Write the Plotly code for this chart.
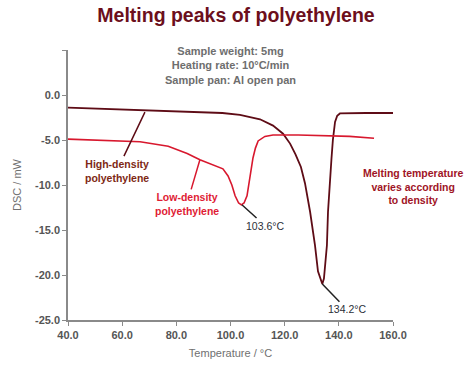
import plotly.graph_objects as go

# High-density polyethylene DSC curve
hd_temp = [40, 60, 80, 97, 103.5, 110.9, 115.7, 119.4, 122, 124, 126, 127.5, 129.4, 131.2,
           132.3, 133.9, 134.5, 135.6, 136.0, 136.7, 137.3, 137.8, 138.6, 139.4, 140.4, 150, 160]
hd_dsc = [-1.4, -1.6, -1.8, -2.0, -2.2, -2.7, -3.4, -4.3, -5.4, -6.6, -8.0, -9.8, -13.0, -16.7,
          -19.6, -21.0, -20.4, -16.7, -13.0, -9.3, -7.0, -5.0, -3.0, -2.3, -2.05, -2.0, -2.0]

# Low-density polyethylene DSC curve
ld_temp = [40, 50, 60, 66.6, 77, 84, 88.7, 93, 97.2, 99.1, 100.5, 101.7, 103.0, 104.0, 105.0,
           106.1, 107.2, 108.3, 109.2, 110.2, 112.7, 115.7, 125, 135, 144, 153]
ld_dsc = [-4.9, -5.0, -5.1, -5.2, -5.7, -6.5, -7.2, -7.7, -8.2, -9.0, -10.0, -11.2, -12.0, -12.2, -12.0,
          -11.2, -9.0, -7.0, -5.9, -5.1, -4.6, -4.45, -4.45, -4.5, -4.6, -4.8]

x_ticks = [40, 60, 80, 100, 120, 140, 160]
y_ticks = [-25, -20, -15, -10, -5, 0, 5]
y_tick_text = ["-25.0", "-20.0", "-15.0", "-10.0", "-5.0", "0.0", ""]

FONT = "Liberation Sans, Arial, sans-serif"
HD_COLOR = "#5e0c16"
LD_COLOR = "#d8182e"

fig = go.Figure()
fig.add_trace(go.Scatter(x=hd_temp, y=hd_dsc, mode="lines",
                         line=dict(color=HD_COLOR, width=1.8), showlegend=False))
fig.add_trace(go.Scatter(x=ld_temp, y=ld_dsc, mode="lines",
                         line=dict(color=LD_COLOR, width=1.6), showlegend=False))

annos = [
    dict(x=68.4, y=-1.9, ax=58.1, ay=-8.4, text="High-density<br>polyethylene",
         font=dict(color="#7e2814", size=10.5, weight="bold"), arrowcolor=HD_COLOR),
    dict(x=88.7, y=-7.2, ax=83.9, ay=-12.1, text="Low-density<br>polyethylene",
         font=dict(color="#e01c34", size=10.5, weight="bold"), arrowcolor=LD_COLOR),
    dict(x=104.2, y=-12.2, ax=112.7, ay=-14.5, text="103.6°C",
         font=dict(color="#2b3038", size=10.5), arrowcolor="#222222"),
    dict(x=133.9, y=-21.0, ax=142.9, ay=-23.8, text="134.2°C",
         font=dict(color="#2b3038", size=10.5), arrowcolor="#222222"),
]
for a in annos:
    fig.add_annotation(xref="x", yref="y", axref="x", ayref="y", showarrow=True,
                       arrowhead=0, arrowwidth=1.5, standoff=0, startstandoff=0,
                       font_family=FONT, **a)

fig.add_annotation(xref="paper", yref="paper", x=1.062, y=0.496, showarrow=False,
                   xanchor="center", yanchor="middle",
                   text="Melting temperature<br>varies according<br>to density",
                   font=dict(family=FONT, size=10.5, color="#a01426", weight="bold"))
fig.add_annotation(xref="paper", yref="paper", x=0.5, y=0.941, showarrow=False,
                   xanchor="center", yanchor="middle",
                   text="Sample weight: 5mg<br>Heating rate: 10°C/min<br>Sample pan: Al open pan",
                   font=dict(family=FONT, size=11, color="#6e6e6e", weight="bold"))

fig.update_layout(
    width=472, height=370,
    margin=dict(l=68, r=79, t=50, b=48),
    paper_bgcolor="white", plot_bgcolor="white",
    title=dict(text="Melting peaks of polyethylene", x=0.5, xref="container",
               y=1 - 15 / 370, yref="container", yanchor="middle", xanchor="center",
               font=dict(family=FONT, size=19.5, color="#6c0f1c", weight="bold")),
    xaxis=dict(range=[40, 160], tickvals=x_ticks,
               ticktext=[f"{v:.1f}" for v in x_ticks],
               showgrid=False, zeroline=False, showline=True, linecolor="#8a8a8a",
               linewidth=1.5, ticks="outside", ticklen=4, tickcolor="#8a8a8a",
               tickfont=dict(family=FONT, size=11, color="#555555", weight="bold"),
               title=dict(text="Temperature / °C", standoff=9,
                          font=dict(family=FONT, size=11, color="#707070"))),
    yaxis=dict(range=[-25, 5], tickvals=y_ticks, ticktext=y_tick_text,
               showgrid=False, zeroline=False, showline=True, linecolor="#8a8a8a",
               linewidth=1.5, ticks="outside", ticklen=4, tickcolor="#8a8a8a",
               tickfont=dict(family=FONT, size=11, color="#555555", weight="bold"),
               title=dict(text="DSC / mW", standoff=11,
                          font=dict(family=FONT, size=11, color="#707070"))),
)

fig.write_html("out.html")
